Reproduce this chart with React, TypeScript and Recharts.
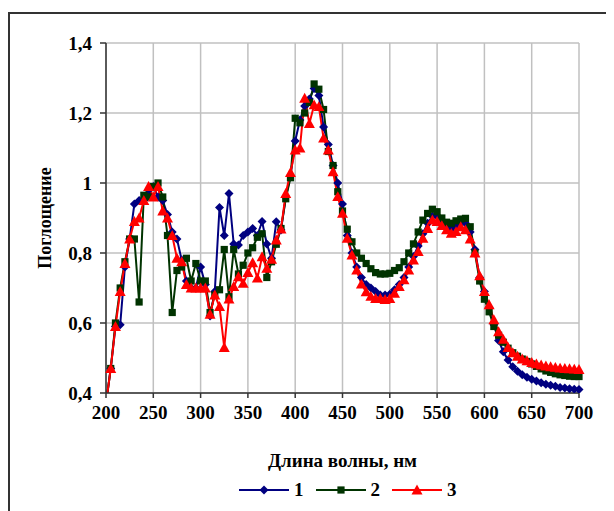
import {
  LineChart,
  Line,
  CartesianGrid,
  XAxis,
  YAxis,
  Legend,
} from "recharts"

// wavelength, nm
const wavelengths = [
  200, 205, 210, 215, 220, 225, 230, 235, 240, 245,
  250, 255, 260, 265, 270, 275, 280, 285, 290, 295,
  300, 305, 310, 315, 320, 325, 330, 335, 340, 345,
  350, 355, 360, 365, 370, 375, 380, 385, 390, 395,
  400, 405, 410, 415, 420, 425, 430, 435, 440, 445,
  450, 455, 460, 465, 470, 475, 480, 485, 490, 495,
  500, 505, 510, 515, 520, 525, 530, 535, 540, 545,
  550, 555, 560, 565, 570, 575, 580, 585, 590, 595,
  600, 605, 610, 615, 620, 625, 630, 635, 640, 645,
  650, 655, 660, 665, 670, 675, 680, 685, 690, 695,
  700,
]

const series1 = [
  0.37, 0.47, 0.59, 0.595, 0.76, 0.84, 0.94, 0.95, 0.95, 0.98,
  0.99, 0.96, 0.95, 0.91, 0.86, 0.84, 0.78, 0.72, 0.70, 0.70,
  0.76, 0.71, 0.62, 0.69, 0.93, 0.85, 0.97, 0.826, 0.823, 0.85,
  0.86, 0.87, 0.85, 0.89, 0.826, 0.785, 0.889, 0.866, 0.96, 1.02,
  1.12, 1.18, 1.22, 1.24, 1.27, 1.25, 1.16, 1.11, 1.05, 1.0,
  0.94, 0.85, 0.80, 0.76, 0.73, 0.71, 0.70, 0.69, 0.68, 0.68,
  0.682, 0.695, 0.71, 0.73, 0.76, 0.79, 0.82, 0.855, 0.885, 0.905,
  0.905, 0.89, 0.875, 0.868, 0.875, 0.885, 0.885, 0.86, 0.81, 0.73,
  0.69, 0.645, 0.595, 0.55, 0.518, 0.494, 0.475, 0.462, 0.452, 0.445,
  0.439, 0.434, 0.429, 0.425, 0.422, 0.419, 0.416, 0.414, 0.412, 0.411,
  0.41,
]

const series2 = [
  0.37, 0.47, 0.60, 0.70, 0.775, 0.84, 0.84, 0.66, 0.965, 0.96,
  0.99, 1.0, 0.96, 0.85, 0.63, 0.75, 0.76, 0.785, 0.72, 0.77,
  0.72, 0.72, 0.63, 0.68, 0.695, 0.81, 0.675, 0.81, 0.74, 0.765,
  0.80, 0.815, 0.845, 0.855, 0.73, 0.775, 0.825, 0.87, 0.955, 1.015,
  1.185, 1.172, 1.20, 1.23, 1.283, 1.268, 1.21, 1.09, 1.05, 0.975,
  0.92, 0.868, 0.832, 0.80, 0.785, 0.77, 0.755, 0.744, 0.74, 0.74,
  0.742, 0.75, 0.758, 0.775, 0.80, 0.826, 0.86, 0.894, 0.913, 0.925,
  0.918, 0.90, 0.888, 0.885, 0.892, 0.897, 0.899, 0.875, 0.80, 0.72,
  0.668, 0.632, 0.59, 0.565, 0.545, 0.528, 0.515, 0.505, 0.497, 0.49,
  0.483, 0.476, 0.469, 0.463, 0.459, 0.455, 0.452, 0.45, 0.448, 0.447,
  0.447,
]

const series3 = [
  0.37, 0.47, 0.59, 0.69, 0.77, 0.84, 0.89, 0.90, 0.95, 0.99,
  0.96, 0.99, 0.92, 0.90, 0.85, 0.785, 0.775, 0.71, 0.70, 0.70,
  0.70, 0.70, 0.625, 0.68, 0.647, 0.53, 0.668, 0.704, 0.732, 0.713,
  0.744, 0.772, 0.728, 0.789, 0.756, 0.782, 0.837, 0.868, 0.97, 1.03,
  1.094, 1.10, 1.242, 1.17, 1.223, 1.218, 1.128, 1.094, 1.032, 0.961,
  0.913, 0.842, 0.794, 0.751, 0.711, 0.689, 0.676, 0.67, 0.67, 0.667,
  0.67, 0.685, 0.704, 0.723, 0.751, 0.78, 0.804, 0.842, 0.87, 0.894,
  0.89, 0.878, 0.866, 0.856, 0.861, 0.875, 0.866, 0.84, 0.80, 0.735,
  0.69, 0.652, 0.609, 0.575, 0.553, 0.53, 0.515, 0.505, 0.497, 0.492,
  0.487, 0.483, 0.48, 0.477, 0.475, 0.473, 0.471, 0.47, 0.469, 0.468,
  0.467,
]

const seriesNames = ["1", "2", "3"]
const xTicks = [200, 250, 300, 350, 400, 450, 500, 550, 600, 650, 700]
const yTicks = [0.4, 0.6, 0.8, 1, 1.2, 1.4]

const FONT = "'Liberation Serif', 'Times New Roman', serif"
const BLUE = "#000080"
const GREEN = "#003300"
const RED = "#ff0000"

const data = wavelengths.map((nm, i) => ({
  nm,
  s1: series1[i],
  s2: series2[i],
  s3: series3[i],
}))

// marker shapes
function diamond(cx: number, cy: number, color: string, key?: any) {
  const r = 4.5
  return (
    <path
      key={key}
      d={`M${cx},${cy - r}L${cx + r},${cy}L${cx},${cy + r}L${cx - r},${cy}Z`}
      fill={color}
    />
  )
}

function square(cx: number, cy: number, color: string, key?: any) {
  const r = 3.6
  return (
    <rect key={key} x={cx - r} y={cy - r} width={r * 2} height={r * 2} fill={color} />
  )
}

function triangle(cx: number, cy: number, color: string, key?: any) {
  const r = 5.5
  return (
    <path
      key={key}
      d={`M${cx},${cy - r}L${cx + r},${cy + r * 0.8}L${cx - r},${cy + r * 0.8}Z`}
      fill={color}
    />
  )
}

const makeDot = (shape: typeof diamond, color: string) => (props: any) => {
  const { cx, cy, index } = props
  if (cx == null || cy == null) return <g key={`e${index}`} />
  return shape(cx, cy, color, `d${index}`)
}

const legendItems = [
  { name: seriesNames[0], color: BLUE, shape: diamond },
  { name: seriesNames[1], color: GREEN, shape: square },
  { name: seriesNames[2], color: RED, shape: triangle },
]

function renderLegend() {
  return (
    <div style={{
      display: "flex",
      alignItems: "center",
      marginLeft: 231,
      height: 22,
    }}>
      {legendItems.map((item) => (
        <div
          key={item.name}
          style={{ display: "flex", alignItems: "center", marginRight: 12 }}
        >
          <svg width={50} height={14}>
            <line x1={0} y1={7} x2={50} y2={7} stroke={item.color} strokeWidth={2} />
            {item.shape(25, 7, item.color)}
          </svg>
          <span style={{
            fontFamily: FONT,
            fontWeight: "bold",
            fontSize: 19,
            marginLeft: 5,
            color: "#000",
          }}>
            {item.name}
          </span>
        </div>
      ))}
    </div>
  )
}

const tickStyle = {
  fontFamily: FONT,
  fontWeight: "bold" as const,
  fontSize: 19,
  fill: "#000",
}

export default function App() {
  return (
    <div style={{
      position: "relative",
      width: 606,
      height: 503,
      overflow: "hidden",
    }}>

      <div style={{
        position: "absolute",
        left: 0,
        top: 4,
        width: 700,
        height: 700,
        border: "2px solid #333",
        boxSizing: "border-box",
      }} />

      <div style={{ position: "absolute", left: 0, top: 0 }}>
        <LineChart
          width={606}
          height={503}
          data={data}
          margin={{ top: 35, right: 35, left: 0, bottom: 10 }}
        >
          <CartesianGrid stroke="#c0c0c0" strokeWidth={1.5} />

          <XAxis
            dataKey="nm"
            type="number"
            domain={[200, 700]}
            ticks={xTicks}
            interval={0}
            height={86}
            tickSize={5}
            tickMargin={8}
            tick={tickStyle}
            axisLine={{ stroke: "#333", strokeWidth: 1.5 }}
            tickLine={{ stroke: "#333", strokeWidth: 1.5 }}
            label={{
              value: "Длина волны, нм",
              position: "insideBottom",
              offset: 12,
              style: {
                fontFamily: FONT,
                fontWeight: "bold",
                fontSize: 19,
                fill: "#000",
              },
            }}
          />

          <YAxis
            type="number"
            domain={[0.4, 1.4]}
            ticks={yTicks}
            interval={0}
            allowDataOverflow
            width={98}
            tickSize={6}
            tickMargin={8}
            tick={tickStyle}
            axisLine={{ stroke: "#333", strokeWidth: 1.5 }}
            tickLine={{ stroke: "#333", strokeWidth: 1.5 }}
            tickFormatter={(v: number) => String(Number(v.toFixed(1))).replace(".", ",")}
            label={{
              value: "Поглощение",
              angle: -90,
              position: "insideLeft",
              offset: 37,
              style: {
                fontFamily: FONT,
                fontWeight: "bold",
                fontSize: 18,
                fill: "#000",
                textAnchor: "middle",
              },
            }}
          />

          <Legend verticalAlign="bottom" height={22} content={renderLegend} />

          <Line
            dataKey="s1"
            name={seriesNames[0]}
            stroke={BLUE}
            strokeWidth={2}
            dot={makeDot(diamond, BLUE)}
            isAnimationActive={false}
          />
          <Line
            dataKey="s2"
            name={seriesNames[1]}
            stroke={GREEN}
            strokeWidth={2}
            dot={makeDot(square, GREEN)}
            isAnimationActive={false}
          />
          <Line
            dataKey="s3"
            name={seriesNames[2]}
            stroke={RED}
            strokeWidth={2}
            dot={makeDot(triangle, RED)}
            isAnimationActive={false}
          />
        </LineChart>
      </div>

    </div>
  )
}
